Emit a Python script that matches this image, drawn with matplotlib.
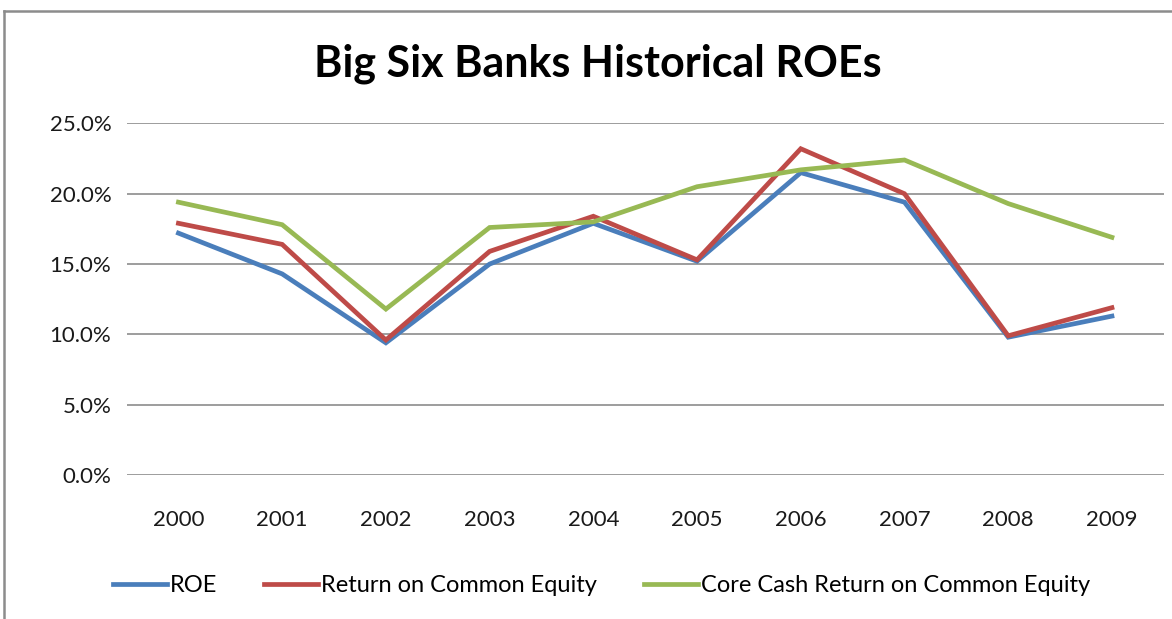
import matplotlib
matplotlib.use("Agg")
import matplotlib.pyplot as plt
from matplotlib.lines import Line2D
from matplotlib.ticker import FuncFormatter

years = ["2000", "2001", "2002", "2003", "2004", "2005", "2006", "2007", "2008", "2009"]
roe = [17.2, 14.3, 9.4, 15.0, 17.9, 15.2, 21.5, 19.4, 9.8, 11.3]
roce = [17.9, 16.4, 9.6, 15.9, 18.4, 15.3, 23.2, 20.0, 9.9, 11.9]
core_cash = [19.4, 17.8, 11.8, 17.6, 18.0, 20.5, 21.7, 22.4, 19.3, 16.9]

series_names = ["ROE", "Return on Common Equity", "Core Cash Return on Common Equity"]
colors = ["#4A7EBB", "#BE4B48", "#98B954"]

plt.rcParams['font.family'] = ['Lato', 'DejaVu Sans']

fig = plt.figure(figsize=(11.72, 6.19), dpi=100)
ax = fig.add_axes([0.108, 0.2326, 0.885, 0.568])

x = range(len(years))
for vals, name, c in zip([roe, roce, core_cash], series_names, colors):
    ax.plot(x, vals, color=c, linewidth=3.4, label=name, solid_joinstyle='miter')

ax.set_xlim(-0.5, len(years) - 0.5)
ax.set_ylim(0, 25)
ax.set_yticks([0, 5, 10, 15, 20, 25])
ax.yaxis.set_major_formatter(FuncFormatter(lambda v, p: f"{v:.1f}%"))
ax.set_xticks(list(x))
ax.set_xticklabels(years)
ax.grid(axis='y', color='#8c8c8c', linewidth=1.2)
ax.set_axisbelow(True)
for s in ax.spines.values():
    s.set_visible(False)
ax.tick_params(axis='both', length=0, labelsize=16, colors='#1a1a1a')
ax.tick_params(axis='y', pad=11)
ax.tick_params(axis='x', pad=25)

fig.suptitle("Big Six Banks Historical ROEs", x=0.51, y=0.93, fontsize=31,
             fontweight='bold')

ax.legend(loc='center', bbox_to_anchor=(0.513, 1 - 586 / 619), bbox_transform=fig.transFigure,
          ncol=3, frameon=False, fontsize=17, handlelength=2.3, handletextpad=0.1,
          columnspacing=2.0)

# outer chart frame (top and left edges visible)
fig.add_artist(Line2D([4 / 1172, 4 / 1172], [0, 1 - 11 / 619], transform=fig.transFigure,
                      color='#8c8c8c', linewidth=1.8))
fig.add_artist(Line2D([4 / 1172, 1], [1 - 11 / 619, 1 - 11 / 619], transform=fig.transFigure,
                      color='#8c8c8c', linewidth=1.8))

fig.savefig("out.png", dpi=100)
